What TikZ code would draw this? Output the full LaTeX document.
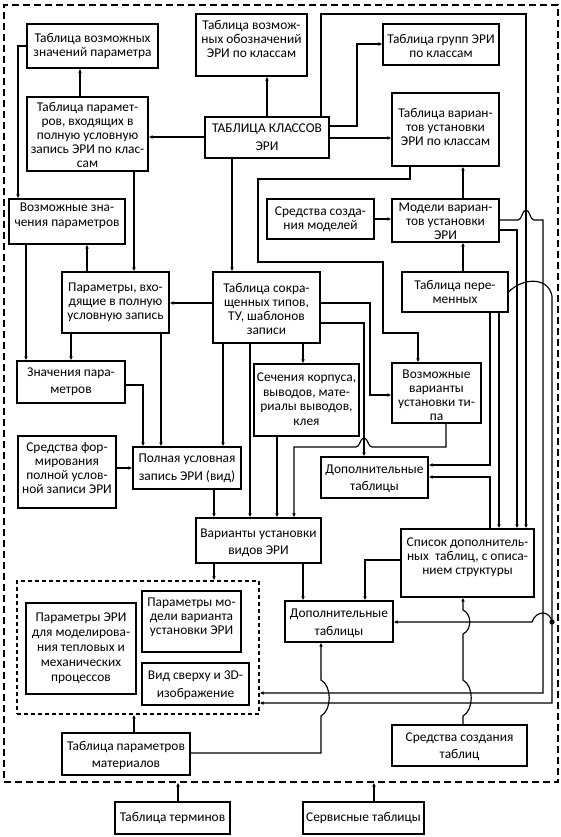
\documentclass[tikz,border=0pt]{standalone}
\usepackage{fontspec}
\setmainfont{Carlito}
\usetikzlibrary{arrows.meta}
\tikzset{
  box/.style={draw, line width=1.15pt, inner sep=0pt},
  txt/.style={align=center, inner sep=0pt},
  arr/.style={line width=1.15pt, -{Latex[length=4pt,width=3.6pt]}},
  dboxout/.style={draw, line width=1.15pt, dash pattern=on 7pt off 4pt, inner sep=0pt},
  dboxin/.style={draw, line width=1.15pt, dash pattern=on 4pt off 3pt, inner sep=0pt},
}
\newcommand\erib[8]{%
  \node[box, minimum width={(#4)-(#2)}, minimum height={(#5)-(#3)}] (#1) at ({((#2)+(#4))/2},{((#3)+(#5))/2}) {};
  \node[txt, font=\fontsize{13.4}{#7}\selectfont] (#1t) at ([yshift={-(#6)}]#1.center) {#8};
}
\begin{document}
\begin{tikzpicture}[x=1pt,y=-1pt]
\useasboundingbox (0,0) rectangle (561,837);
\fill[white] (0,0) rectangle (561,837);
% dashed frames
\node[dboxout, minimum width=554, minimum height=777] (outer) at (281,393.5) {};
\node[dboxin, minimum width=242, minimum height=133] (inner) at (138,647.5) {};
% boxes
\erib{b1}{27}{24}{158}{68}{0}{14}{Таблица возможных\\значений параметра}
\erib{b2}{196}{14}{307}{76}{-6.5}{14}{Таблица возмож-\\ных обозначений\\ЭРИ по классам}
\erib{b3}{383}{24}{499}{65}{1}{14}{Таблица групп ЭРИ\\по классам}
\erib{b4}{392}{93}{499}{166}{-3}{14}{Таблица вариан-\\тов установки\\ЭРИ по классам}
\erib{b5}{205}{117}{329}{158}{0}{18}{ТАБЛИЦА КЛАССОВ\\ЭРИ}
\erib{b6}{27}{97}{148}{171}{1}{14}{Таблица парамет-\\ров, входящих в\\полную условную\\запись ЭРИ по клас-\\сам}
\erib{b7}{9}{199}{125}{244}{-6}{15}{Возможные зна-\\чения параметров}
\erib{b8}{62}{272}{169}{333}{0}{14}{Параметры, вхо-\\дящие в полную\\условную запись}
\erib{b9}{17}{361}{125}{403}{0}{17}{Значения пара-\\метров}
\erib{b10}{213}{272}{320}{343}{1}{14}{Таблица сокра-\\щенных типов,\\ТУ, шаблонов\\записи}
\erib{b12}{267}{199}{374}{239}{0}{14}{Средства созда-\\ния моделей}
\erib{b13}{392}{199}{499}{242}{1}{14}{Модели вариан-\\тов установки\\ЭРИ}
\erib{b14}{402}{272}{508}{312}{0}{14}{Таблица пере-\\менных}
\erib{b15}{392}{363}{481}{423}{2}{14}{Возможные\\варианты\\установки ти-\\па}
\erib{b16}{254}{364}{359}{436}{-1}{14.5}{Сечения корпуса,\\выводов, мате-\\риалы выводов,\\клея}
\erib{b17}{321}{457}{428}{498}{1}{17}{Дополнительные\\таблицы}
\erib{b18}{133}{447}{241}{489}{0}{18}{Полная условная\\запись ЭРИ (вид)}
\erib{b19}{18}{436}{116}{508}{-4}{14}{Средства фор-\\мирования\\полной услов-\\ной записи ЭРИ}
\erib{b20}{196}{518}{321}{563}{2}{17}{Варианты установки\\видов ЭРИ}
\erib{b21}{401}{529}{534}{597}{-6}{14}{Список дополнитель-\\ных\ \ таблиц, с описа-\\нием структуры}
\erib{b22}{285}{601}{393}{642}{2}{18}{Дополнительные\\таблицы}
\erib{b23}{26}{603}{136}{694}{0}{15}{Параметры ЭРИ\\для моделирова-\\ния тепловых и\\механических\\процессов}
\erib{b24}{142}{591}{241}{652}{-4}{14}{Параметры мо-\\дели варианта\\установки ЭРИ}
\erib{b25}{142}{663}{249}{705}{1}{18}{Вид сверху и 3D-\\изображение}
\erib{b26}{62}{733}{190}{775}{2}{17}{Таблица параметров\\материалов}
\erib{b27}{392}{725}{527}{766}{1}{17}{Средства создания\\таблиц}
\erib{b28}{115}{802}{230}{834}{0}{14}{Таблица терминов}
\erib{b29}{303}{802}{424}{834}{0}{14}{Сервисные таблицы}
% connectors
\draw[arr] (b1.west) -| (18,0 |- b7.north);
\draw[arr] (80,0 |- b6.north) -- (80,0 |- b1.south);
\draw[arr] (b5.west |- 0,137) -- (b6.east |- 0,137);
\draw[arr] (267,0 |- b5.north) -- (267,0 |- b2.south);
\draw[arr] (321,0 |- b5.north) -- (321,14) -| (526,0 |- b21.north);
\draw[arr] (b5.east |- 0,126) -| (357,44) -- (b3.west |- 0,44);
\draw[arr] (b5.east |- 0,138) -- (b4.west |- 0,138);
\draw[arr] (232,0 |- b5.south) -- (232,0 |- b10.north);
\draw[arr] (134,0 |- b6.south) -- (134,0 |- b8.north);
\draw[arr] (87,0 |- b8.north) -- (87,0 |- b7.south);
\draw[arr] (26,0 |- b7.south) -- (26,0 |- b9.north);
\draw[arr] (71,0 |- b8.south) -- (71,0 |- b9.north);
\draw[arr] (b10.west |- 0,303) -- (b8.east |- 0,303);
\draw[arr] (b9.east |- 0,385) -| (143,0 |- b18.north);
\draw[arr] (161,0 |- b8.south) -- (161,0 |- b18.north);
\draw[arr] (223,0 |- b10.south) -- (223,0 |- b18.north);
\draw[arr] (250,0 |- b10.south) -- (250,0 |- b20.north);
\draw[arr] (303,0 |- b10.south) -- (303,0 |- b16.north);
\draw[arr] (b10.east |- 0,303) -| (370,395) -- (b15.west |- 0,395);
\draw[arr] (b10.east |- 0,323) -| (364,0 |- b17.north);
\draw[arr] (446,0 |- b15.south) |- (372,447) .. controls (368,447) and (368,438) .. (364,438) .. controls (360,438) and (360,447) .. (356,447) -| (294,0 |- b20.north);
\draw[arr] (490,0 |- b14.south) |- (b17.east |- 0,465);
\draw[arr] (490,0 |- b21.north) |- (b17.east |- 0,477);
\draw[arr] (499,0 |- b14.south) -- (499,0 |- b21.north);
\draw[arr] (b13.east |- 0,230) -| (517,0 |- b21.north);
\draw[arr] (b13.east |- 0,220) -- (518,220) .. controls (522,220) and (522,210) .. (526,210) .. controls (530,210) and (530,220) .. (534,220) -| (543,693) -- (inner.east |- 0,693);
\draw[arr] (b14.east |- 0,292) .. controls (522,278) and (548,276) .. (552,296) -- (552,703) -- (inner.east |- 0,703);
\coordinate (dot) at (552,622);
\fill (dot) circle (2.6);
\draw[arr] (dot) .. controls (550,610) and (536,610) .. (532,622) -- (b22.east |- 0,622);
\draw[arr] (303,0 |- b20.south) -- (303,0 |- b22.north);
\draw[arr] (b21.west |- 0,560) -| (365,0 |- b22.north);
\draw[arr] (214,0 |- b20.south) -- (214,0 |- inner.north);
\draw[arr] (134,0 |- b26.north) -- (134,0 |- inner.south);
\draw[arr] (b26.east |- 0,753) -| (321,716) .. controls (332,710) and (332,686) .. (321,680) -- (321,0 |- b22.south);
\draw[arr] (463,0 |- b27.north) -- (463,716) .. controls (474,710) and (474,686) .. (463,680) -- (463,634) .. controls (472,630) and (472,614) .. (463,610) -- (463,0 |- b21.south);
\draw[arr] (b12.east) -- (b12.east -| b13.west);
\draw[arr] (463,0 |- b13.north) -- (463,0 |- b4.south);
\draw[arr] (463,0 |- b14.north) -- (463,0 |- b13.south);
\draw[arr] (410,0 |- b4.south) |- (258,179) |- (383,262) |- (418,333) -- (418,0 |- b15.north);
\draw[arr] (b19.east |- b18.west) -- (b18.west);
\draw[arr] (214,0 |- b18.south) -- (214,0 |- b20.north);
\draw[arr] (277,0 |- b16.south) -- (277,0 |- b20.north);
\draw[arr] (374,0 |- b29.north) -- (374,0 |- outer.south);
\draw[arr] (178,0 |- b28.north) -- (178,0 |- outer.south);
\end{tikzpicture}
\end{document}
